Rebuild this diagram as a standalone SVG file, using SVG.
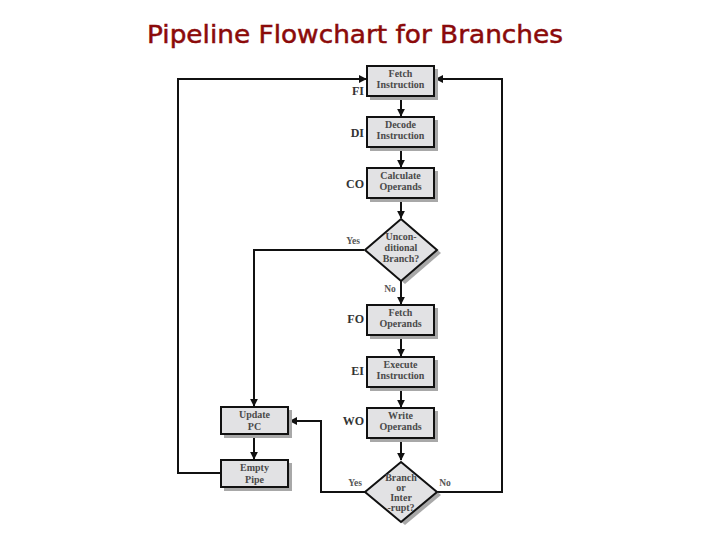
<svg xmlns="http://www.w3.org/2000/svg" width="720" height="540" viewBox="0 0 720 540">
<defs>
<style>
.box{fill:#e2e2e4;stroke:#111;stroke-width:2}
.sh{fill:#a8a8a8}
.bt{font-family:"Liberation Serif","DejaVu Serif",serif;font-size:10px;font-weight:bold;fill:#4a4a4a;text-anchor:middle}
.lb{font-family:"Liberation Serif","DejaVu Serif",serif;font-size:12px;font-weight:bold;fill:#333;text-anchor:end}
.yn{font-family:"Liberation Serif","DejaVu Serif",serif;font-size:9.5px;font-weight:bold;fill:#555;text-anchor:middle}
.c{fill:none;stroke:#111;stroke-width:2}
</style>
<marker id="ah" viewBox="0 0 10 10" refX="9" refY="5" markerWidth="4" markerHeight="4" orient="auto" markerUnits="strokeWidth">
<path d="M0,0 L10,5 L0,10 z" fill="#111"/>
</marker>
</defs>
<rect width="720" height="540" fill="#fff"/>
<text x="355" y="43" font-family="'Comic Sans MS','DejaVu Sans',sans-serif" font-size="25" fill="#8b0a0a" stroke="#8b0a0a" stroke-width="0.5" text-anchor="middle" textLength="416" lengthAdjust="spacingAndGlyphs">Pipeline Flowchart for Branches</text>

<g id="connectors">
<line class="c" x1="401" y1="97" x2="401" y2="116" marker-end="url(#ah)"/>
<line class="c" x1="401" y1="148" x2="401" y2="167" marker-end="url(#ah)"/>
<line class="c" x1="401" y1="199" x2="401" y2="218" marker-end="url(#ah)"/>
<line class="c" x1="401" y1="281" x2="401" y2="304" marker-end="url(#ah)"/>
<line class="c" x1="401" y1="336" x2="401" y2="356" marker-end="url(#ah)"/>
<line class="c" x1="401" y1="388" x2="401" y2="407" marker-end="url(#ah)"/>
<line class="c" x1="401" y1="439" x2="401" y2="460" marker-end="url(#ah)"/>
<polyline class="c" points="364,250 254,250 254,406" marker-end="url(#ah)"/>
<line class="c" x1="254" y1="435" x2="254" y2="459" marker-end="url(#ah)"/>
<polyline class="c" points="221,473 178,473 178,79 366,79" marker-end="url(#ah)"/>
<polyline class="c" points="365,492 321,492 321,421 290,421" marker-end="url(#ah)"/>
<polyline class="c" points="437,492 502,492 502,79 436,79" marker-end="url(#ah)"/>
<text class="yn" x="353" y="244">Yes</text>
<text class="yn" x="390" y="292">No</text>
<text class="yn" x="355" y="486">Yes</text>
<text class="yn" x="445" y="486">No</text>
</g>

<g id="fetch-instruction">
<rect class="sh" x="370" y="69" width="68" height="31"/>
<rect class="box" x="367" y="66" width="67" height="30"/>
<text class="bt" x="400.5" y="77">Fetch</text>
<text class="bt" x="400.5" y="88">Instruction</text>
<text class="lb" x="364" y="95">FI</text>
</g>

<g id="decode-instruction">
<rect class="sh" x="370" y="120" width="68" height="31"/>
<rect class="box" x="367" y="117" width="67" height="30"/>
<text class="bt" x="400.5" y="128">Decode</text>
<text class="bt" x="400.5" y="139">Instruction</text>
<text class="lb" x="364" y="137">DI</text>
</g>

<g id="calculate-operands">
<rect class="sh" x="370" y="171" width="68" height="31"/>
<rect class="box" x="367" y="168" width="67" height="30"/>
<text class="bt" x="400.5" y="179">Calculate</text>
<text class="bt" x="400.5" y="190">Operands</text>
<text class="lb" x="364" y="188">CO</text>
</g>

<g id="unconditional-branch">
<polygon class="sh" points="405,222 441,253 405,284 369,253"/>
<polygon class="box" points="401,219 437,250 401,281 365,250"/>
<text class="bt" x="401" y="240">Uncon-</text>
<text class="bt" x="401" y="251">ditional</text>
<text class="bt" x="401" y="262">Branch?</text>
</g>

<g id="fetch-operands">
<rect class="sh" x="370" y="308" width="68" height="31"/>
<rect class="box" x="367" y="305" width="67" height="30"/>
<text class="bt" x="400.5" y="316">Fetch</text>
<text class="bt" x="400.5" y="327">Operands</text>
<text class="lb" x="364" y="323">FO</text>
</g>

<g id="execute-instruction">
<rect class="sh" x="370" y="360" width="68" height="31"/>
<rect class="box" x="367" y="357" width="67" height="30"/>
<text class="bt" x="400.5" y="368">Execute</text>
<text class="bt" x="400.5" y="379">Instruction</text>
<text class="lb" x="364" y="375">EI</text>
</g>

<g id="write-operands">
<rect class="sh" x="370" y="411" width="68" height="31"/>
<rect class="box" x="367" y="408" width="67" height="30"/>
<text class="bt" x="400.5" y="419">Write</text>
<text class="bt" x="400.5" y="430">Operands</text>
<text class="lb" x="364" y="425">WO</text>
</g>

<g id="branch-or-interrupt">
<polygon class="sh" points="405,465 441,495 405,525 369,495"/>
<polygon class="box" points="401,462 437,492 401,522 365,492"/>
<text class="bt" x="401" y="481">Branch</text>
<text class="bt" x="401" y="491">or</text>
<text class="bt" x="401" y="501">Inter</text>
<text class="bt" x="401" y="511">-rupt?</text>
</g>

<g id="update-pc">
<rect class="sh" x="224" y="410" width="68" height="28"/>
<rect class="box" x="221" y="407" width="67" height="27"/>
<text class="bt" x="254.5" y="418">Update</text>
<text class="bt" x="254.5" y="430">PC</text>
</g>

<g id="empty-pipe">
<rect class="sh" x="224" y="463" width="68" height="28"/>
<rect class="box" x="221" y="460" width="67" height="27"/>
<text class="bt" x="254.5" y="471">Empty</text>
<text class="bt" x="254.5" y="483">Pipe</text>
</g>
</svg>
